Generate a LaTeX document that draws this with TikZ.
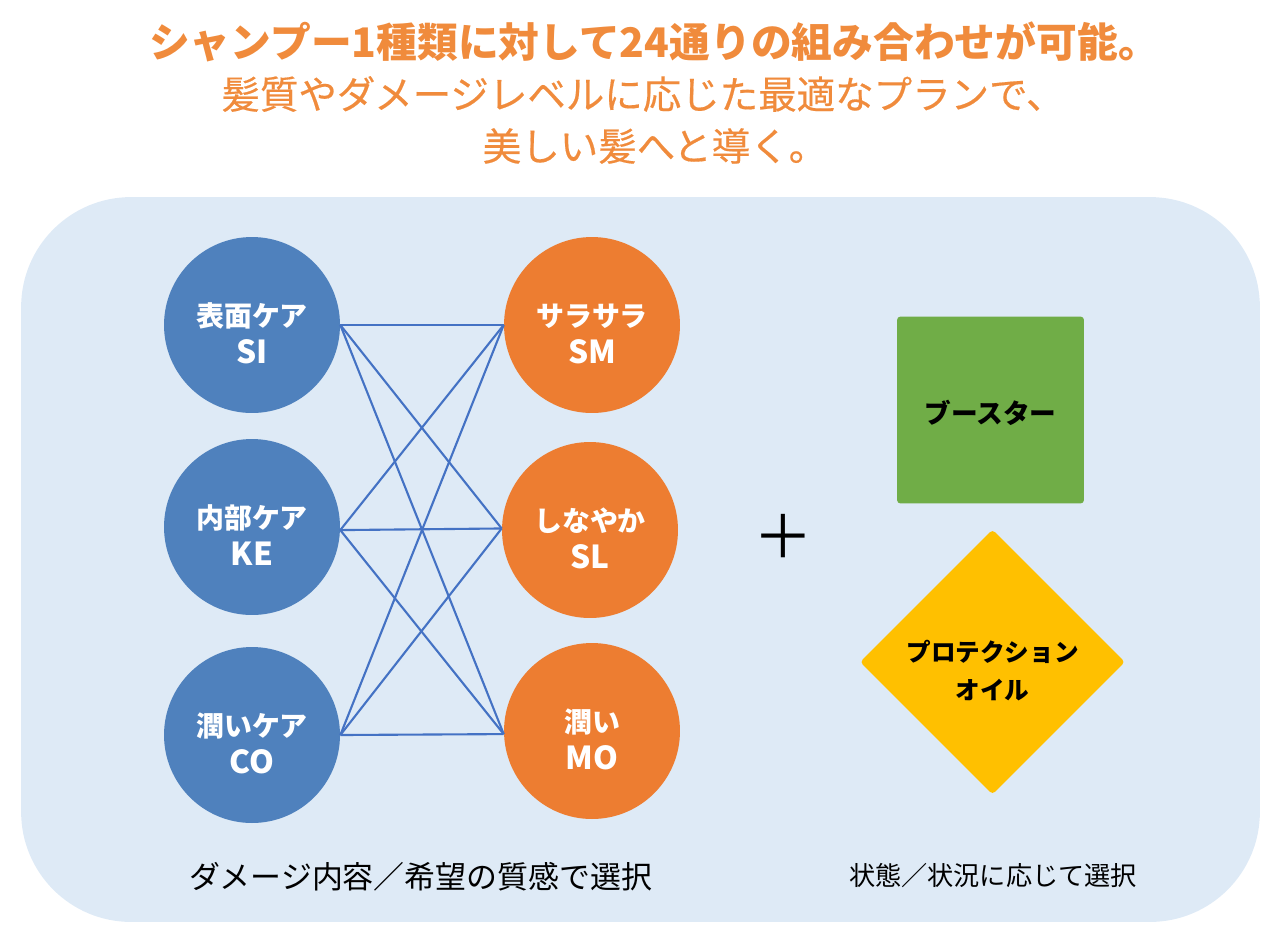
\documentclass[tikz,border=0pt]{standalone}
\usepackage{fontspec}
\setmainfont{Noto Sans CJK JP}
\newfontfamily\leadfont[FakeBold=0.4]{Noto Sans CJK JP}
\usetikzlibrary{shapes.geometric}
\definecolor{panelblue}{HTML}{DEEAF6}
\definecolor{careblue}{HTML}{4F81BD}
\definecolor{feelorange}{HTML}{ED7D31}
\definecolor{titleorange}{HTML}{F08B3C}
\definecolor{linkblue}{HTML}{4472C4}
\definecolor{boostgreen}{HTML}{70AD47}
\definecolor{oilyellow}{HTML}{FFC000}
\newcommand{\px}[1]{\fontsize{#1}{21.3}\selectfont}
\newcommand{\ballrows}[2]{\rule{0pt}{23pt}#1\\{\px{18}#2}}
\tikzset{
  careball/.style={circle,fill=#1,text=white,minimum size=3.52cm,inner sep=0pt,align=center,font=\px{15.9}\bfseries},
  link/.style={linkblue,line width=1.2pt},
  titleline/.style={text=titleorange,inner sep=0pt,anchor=center}
}

\begin{document}
\begin{tikzpicture}[x=0.02cm,y=-0.02cm]

\useasboundingbox (0,0) rectangle (1287,931);

\node[fill=panelblue,rounded corners=2.2cm,minimum width=24.78cm,minimum height=14.5cm,inner sep=0pt] (panel) at (640.5,559.5) {};

\node[titleline,font=\px{23.2}\bfseries] (title1) at (654,42) {シャンプー1種類に対して24通りの組み合わせが可能。};
\node[titleline,font=\px{21.9}\leadfont] (title2) at (643,94) {髪質やダメージレベルに応じた最適なプランで、};
\node[titleline,font=\px{21.9}\leadfont] (title3) at (655,146) {美しい髪へと導く。};

\node[careball=careblue] (si) at (252,325) {\ballrows{表面ケア}{SI}};
\node[careball=careblue] (ke) at (252,527) {\ballrows{内部ケア}{KE}};
\node[careball=careblue] (co) at (252,735) {\ballrows{潤いケア}{CO}};

\node[careball=feelorange] (sm) at (592,325) {\ballrows{サラサラ}{SM}};
\node[careball=feelorange] (sl) at (590,530) {\ballrows{しなやか}{SL}};
\node[careball=feelorange] (mo) at (592,731) {\ballrows{潤い}{MO}};

\draw[link] (si.east)--(sm.west);
\draw[link] (si.east)--(sl.179.4);
\draw[link] (si.east)--(mo.182.6);
\draw[link] (ke.358.7)--(sm.west);
\draw[link] (ke.358.7)--(sl.179.4);
\draw[link] (ke.358.7)--(mo.182.6);
\draw[link] (co.east)--(sm.west);
\draw[link] (co.east)--(sl.179.4);
\draw[link] (co.east)--(mo.182.6);

\node[inner sep=0pt,font=\px{34}] (plus) at (783,536) {＋};

\node[fill=boostgreen,rounded corners=2pt,minimum size=3.74cm,inner sep=0pt,font=\px{15.2}\bfseries] (booster) at (990.5,410) {\rule{0pt}{16.5pt}ブースター};
\node[diamond,aspect=1,fill=oilyellow,rounded corners=2pt,minimum width=5.3cm,minimum height=5.3cm,inner sep=0pt,align=center,font=\px{14}\bfseries] (oil) at (992.5,662) {\rule{0pt}{22pt}プロテクション\\オイル};

\node[inner sep=0pt,font=\px{17.6}] (choice1) at (421,877) {ダメージ内容／希望の質感で選択};
\node[inner sep=0pt,font=\px{14.9}] (choice2) at (993,876) {状態／状況に応じて選択};

\end{tikzpicture}
\end{document}
